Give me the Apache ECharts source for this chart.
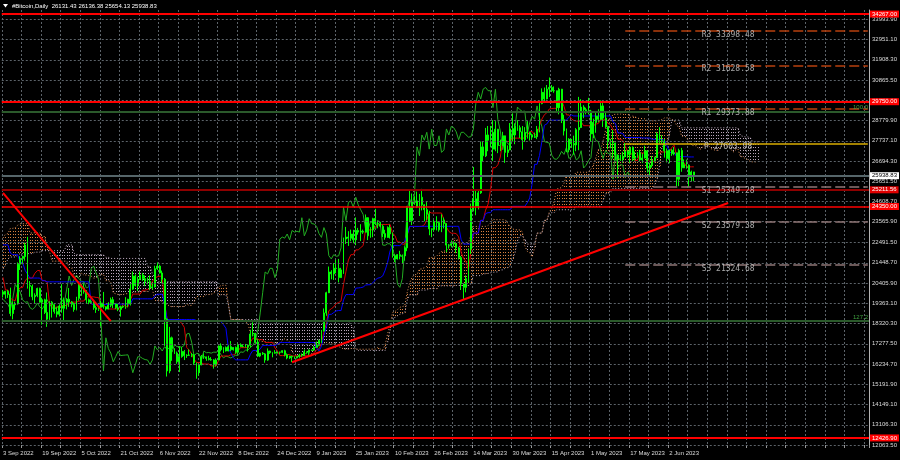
<!DOCTYPE html>
<html><head><meta charset="utf-8">
<script src="https://cdn.jsdelivr.net/npm/echarts@6/dist/echarts.min.js"></script>
<style>html,body{margin:0;padding:0;background:#000;}#c{width:900px;height:460px;}</style>
</head><body><div id="c"></div>
<script>
// ---------- data ----------
const titleText = '#Bitcoin,Daily  26131.43 26136.38 25654.13 25938.83';
const startDate = [2022, 8, 3];           // 3 Sep 2022 (month 0-based)
const totalSlots = 354;                   // bars + empty future area
const lastLabelIndex = 272;               // "2 Jun 2023"
const yTicks = [12063.50,13106.30,14149.10,15191.90,16234.70,17277.50,18320.30,19363.10,20405.90,21448.70,22491.50,23565.90,24608.70,25651.50,26694.30,27737.10,28779.90,29822.70,30865.50,31908.30,32951.10,33993.90];
const yMin = 12063.5, yMax = 34475.5;

// history before the visible window (18 Jun - 2 Sep 2022), lows / highs
const preLow = [17600,18000,19650,20350,19800,19900,20750,20950,20950,20500,20200,19850,18650,
18950,18950,18800,19050,19300,19800,20250,21200,21300,20650,19850,19250,18950,19600,20400,20500,20750,20750,21600,22950,22350,22500,22000,22300,21250,20750,21050,22550,23400,23500,23300,
22900,22700,22700,22450,22600,22900,22850,23150,22900,22700,23900,23600,24300,24150,23800,23700,23200,23150,20800,20800,21000,20900,20900,21150,21350,20150,19850,19550,19600,19550,19900,
19650,19750];
const preHigh = [20700,20750,21000,21700,20850,21200,21500,21600,21900,21500,21200,20400,20150,
20850,19400,19650,20350,20700,20650,21800,22400,21950,21600,20850,20050,20300,20850,21200,21550,21650,22700,23700,24250,23400,23750,22850,22950,22650,21350,23000,24150,24300,24650,24200,
23450,23450,23600,23200,23450,23350,23400,24200,23900,24200,24850,24450,24850,25050,25200,24200,24400,23600,23200,21400,21650,21500,21650,21850,21800,21850,20300,20150,20400,20550,20450,
20200,20400];

// daily candles [open, close, low, high] from 3 Sep 2022
const candles = [
[19952,19832,19660,20050],[19832,19986,19600,20000],[19986,19813,19640,20050],[19813,18838,18700,20170],[18838,19290,18540,19460],[19290,19329,19030,19450],[19329,21381,19300,21470],[21381,21680,21080,21790],[21680,21770,21370,21820],[21770,22370,21560,22490],[22370,20296,20120,22790],[20296,20241,19700,20510],[20241,19701,19520,20330],[19701,19772,19330,19880],[19772,20127,19680,20170],[20127,19419,19400,20170],[19419,19545,18270,19650],[19545,18890,18810,19600],[18890,18547,18150,19920],[18547,19413,18400,19470],[19413,19297,18630,19480],[19297,18937,18830,19310],[18937,18802,18640,19180],[18802,19222,18690,19300],[19222,19110,18880,20350],[19110,19426,18500,19660],[19426,19573,19050,19630],[19573,19431,19180,20150],
[19431,19312,19160,19480],[19312,19044,18930,19390],[19044,19623,19000,19700],[19623,20336,19500,20460],[20336,20160,19750,20360],[20160,19955,19860,20440],[19955,19546,19330,20050],[19546,19417,19320,19610],[19417,19446,19360,19550],[19446,19141,19030,19520],[19141,19051,18870,19250],[19051,19157,18970,19220],[19157,19382,18190,19500],[19382,19185,19090,19950],[19185,19067,18990,19210],[19067,19268,19060,19420],[19268,19550,19160,19660],[19550,19334,19120,19690],[19334,19139,19070,19350],[19139,19053,18960,19330],[19053,19172,18680,19240],[19172,19208,19120,19250],[19208,19567,19080,19680],[19567,19345,19160,19600],[19345,20095,19250,20400],[20095,20770,20060,21000],[20770,20285,20230,20850],[20285,20595,20000,20740],[20595,20818,20560,21000],[20818,20635,20520,20930],[20635,20495,20250,20800],
[20495,20485,20350,20700],[20485,20159,20050,20800],[20159,20209,20060,20390],[20209,21147,20180,21300],[21147,21282,21080,21470],[21282,20926,20900,21350],[20926,20602,20400,21050],[20602,18541,17170,20670],[18541,15880,15590,18590],[15880,17586,15760,18150],[17586,17034,16400,17650],[17034,16800,16750,17050],[16800,16353,16250,16880],[16353,16618,15820,17150],[16618,16884,16560,17110],[16884,16669,16440,16960],[16669,16688,16550,16740],[16688,16697,16650,16990],[16697,16711,16590,16810],[16711,16291,16190,16750],[16291,15787,15480,16310],[15787,16189,15630,16260],[16189,16610,16170,16700],[16610,16604,16500,16780],[16604,16521,16400,16610],[16521,16464,16420,16660],[16464,16444,16410,16590],[16444,16217,16000,16480],[16217,16444,16110,16530],[16444,17168,16430,17200],
[17168,16967,16880,17300],[16967,17088,16800,17100],[17088,16908,16880,17140],[16908,17130,16890,17200],[17130,16974,16900,17420],[16974,17089,16930,17110],[17089,16848,16760,17140],[16848,17233,16740,17290],[17233,17133,17100,17300],[17133,17128,17100,17220],[17128,17104,17080,17270],[17104,17206,16880,17240],[17206,17782,17090,18000],[17782,17815,17660,18390],[17815,17364,17280,17840],[17364,16647,16600,17520],[16647,16795,16590,16800],[16795,16757,16700,16850],[16757,16439,16300,16800],[16439,16906,16400,17040],[16906,16817,16760,16920],[16817,16830,16580,16860],[16830,16796,16770,16950],[16796,16847,16790,16870],[16847,16842,16740,16870],[16842,16919,16800,16940],[16919,16717,16630,16970],[16717,16552,16480,16780],[16552,16642,16500,16660],[16642,16603,16330,16650],[16603,16547,16500,16630],
[16547,16625,16520,16630],[16625,16688,16550,16760],[16688,16680,16610,16780],[16680,16863,16660,16990],[16863,16836,16770,16880],[16836,16951,16700,16990],[16951,16955,16910,16970],[16955,17091,16910,17170],[17091,17196,17090,17390],[17196,17446,17150,17490],[17446,17934,17320,17990],[17934,18869,17910,19100],[18869,19909,18720,19960],[19909,20977,19890,21260],[20977,20880,20600,21070],[20880,21169,20570,21440],[21169,21161,20910,21610],[21161,20688,20440,21650],[20688,21086,20670,21190],[21086,22676,20880,22750],[22676,22777,22420,23300],[22777,22720,22320,23080],[22720,22934,22560,23160],[22934,22636,22460,23150],[22636,23117,22360,23790],[23117,23032,22900,23250],[23032,23078,22570,23440],[23078,23031,22940,23160],[23031,23774,23020,23940],[23774,22840,22620,23800],[22840,23139,22740,23290],
[23139,23723,22770,23770],[23723,23471,23400,24230],[23471,23449,23230,23580],[23449,23331,23280,23560],[23331,22955,22780,23420],[22955,22760,22640,23150],[22760,23264,22750,23330],[23264,22939,22700,23420],[22939,21819,21720,23010],[21819,21651,21480,21900],[21651,21870,21620,21900],[21870,21788,21630,22070],[21788,21808,21400,21880],[21808,22220,21560,22300],[22220,24307,22050,24380],[24307,23623,23550,25250],[23623,24565,23400,25020],[24565,24641,24440,24880],[24641,24327,24270,25120],[24327,24829,23860,25000],[24829,24436,24150,25260],[24436,24188,23590,24470],[24188,23947,23650,24580],[23947,23198,22870,24130],[23198,23175,22770,23220],[23175,23561,23080,23660],[23561,23522,23120,23850],[23522,23147,23050,23600],
[23147,23646,23030,23950],[23646,23475,23220,23780],[23475,22362,22000,23480],[22362,22353,22180,22410],[22353,22435,22250,22600],[22435,22429,22290,22560],[22429,22219,21960,22530],[22219,21718,21620,22280],[21718,20363,20050,21800],[20363,20187,19570,20370],[20187,20633,19930,20800],[20633,22163,20440,22190],[22163,24197,21900,24500],[24197,24746,24100,26390],[24746,24375,23900,25200],[24375,25052,24200,25180],[25052,27423,25000,27700],[27423,26965,26650,27700],[26965,28038,26900,28400],[28038,27767,27200,28500],[27767,28175,27400,28500],[28175,27307,26700,28800],[27307,28333,27200,28750],[28333,27493,27100,28350],[27493,27494,27200,27800],[27494,27994,27460,28200],[27994,27139,26600,28000],[27139,27268,26900,27500],[27268,28348,27250,28650],[28348,28033,27700,29150],[28033,28478,27560,28640],
[28478,28411,28250,28800],[28411,28199,27880,28530],[28199,27790,27280,28500],[27790,28168,27680,28440],[28168,28177,27850,28750],[28177,28044,27750,28200],[28044,27925,27800,28100],[27925,27947,27880,28160],[27947,28333,27820,28500],[28333,29653,28170,29770],[29653,30235,29620,30440],[30235,29892,29680,30480],[29892,30400,29870,30610],[30400,30485,29990,31000],[30485,30318,30250,30610],[30318,30316,30210,30540],[30316,29445,29270,30320],[29445,30397,29100,30470],[30397,28822,28650,30410],[28822,28245,28010,29080],[28245,27276,27150,28370],[27276,27817,27140,27870],[27817,27591,27370,27820],[27591,27525,27030,28000],[27525,28307,27200,28390],[28307,28422,27250,30000],[28422,29473,28390,29880],[29473,29340,28900,29570],[29340,29248,29100,29440],[29248,29268,29100,29950],
[29268,28091,27680,29330],[28091,28680,27880,28880],[28680,29006,28150,29260],[29006,28847,28690,29360],[28847,29534,28800,29820],[29534,28904,28450,29700],[28904,28454,28400,29170],[28454,27695,27300,28480],[27695,27654,27350,27830],[27654,27621,26820,28310],[27621,27000,26720,27640],[27000,26804,25810,27040],[26804,26784,26700,27020],[26784,26931,26600,27170],[26931,27192,26880,27630],[27192,27036,26860,27270],[27036,27398,26600,27450],[27398,26832,26690,27450],[26832,26890,26720,27180],[26890,27129,26860,27150],[27129,26753,26700,27270],[26753,26851,26590,27060],[26851,27225,26830,27480],[27225,26334,26100,27230],[26334,26476,25880,26600],[26476,26719,26360,26950],[26719,26868,26620,26920],[26868,28085,26860,28180],[28085,27745,27580,28440],[27745,27702,27570,28020],[27702,27219,26870,27830],
[27219,26819,26620,27340],[26819,27249,26580,27300],[27249,27075,26960,27310],[27075,27119,26990,27420],[27119,25760,25400,27130],[25760,27238,25400,27330],[27238,26346,26140,27370],[26346,26508,26330,26780],[26508,26480,26300,26770],[26480,25851,25370,26520],[25851,26131,25650,26200],[26131.43,25938.83,25654.13,26136.38]
];

// horizontal levels
const redLevels = [34267.00, 29750.00, 24350.00, 12426.90];
const darkRedLevels = [25211.56];
const lastPrice = 25938.83;
const fibNames = ['100.0', '127.2'];
const fibValues = [29245, 18452];
const pivotNames = ['R3', 'R2', 'R1', 'P', 'S1', 'S2', 'S3'];
const pivotValues = [33398.48, 31628.58, 29373.88, 27603.98, 25349.28, 23579.38, 21324.68];
const pivotStart = '2023-05-15';
const pivotTextDate = '2023-06-26';
const trendDown = [['2022-09-03', 25050], ['2022-10-17', 18450]];
const trendUp = [['2022-12-30', 16330], ['2023-06-26', 24530]];

// ---------- build ----------
const MON = ['Jan','Feb','Mar','Apr','May','Jun','Jul','Aug','Sep','Oct','Nov','Dec'];
const dates = [];
const d0 = Date.UTC(startDate[0], startDate[1], startDate[2]);
for (let i = 0; i < totalSlots; i++) dates.push(new Date(d0 + i * 86400000).toISOString().slice(0, 10));
const lastDate = dates[totalSlots - 1];
function fmtDate(s) { const p = s.split('-'); return (+p[2]) + ' ' + MON[+p[1] - 1] + ' ' + p[0]; }

// Ichimoku (9, 26, 52) from the price data
const P = preLow.length, N = candles.length;
const allLow = preLow.concat(candles.map(c => c[2]));
const allHigh = preHigh.concat(candles.map(c => c[3]));
function mid(k, n) { let hi = -Infinity, lo = Infinity; for (let j = Math.max(0, k - n + 1); j <= k; j++) { hi = Math.max(hi, allHigh[j]); lo = Math.min(lo, allLow[j]); } return (hi + lo) / 2; }
const tenkan = [], kijun = [], chikou = [], spanA = [], spanB = [], cloud = [];
for (let i = 0; i < totalSlots; i++) {
  tenkan.push(i < N ? mid(P + i, 9) : null);
  kijun.push(i < N ? mid(P + i, 26) : null);
  chikou.push(i + 26 < N ? candles[i + 26][1] : null);
  const k = P + i - 26;
  if (k >= 0 && k < P + N) {
    const a = (mid(k, 9) + mid(k, 26)) / 2, b = mid(k, 52);
    spanA.push(a); spanB.push(b); cloud.push([i, a, b]);
  } else { spanA.push(null); spanB.push(null); }
}

const FONT = 'Liberation Sans';
const gridLines = yTicks.map(v => ({
  yAxis: v,
  lineStyle: { color: '#5c6369', type: [2, 2], width: 1 },
  label: { show: true, position: 'end', distance: 3, formatter: v.toFixed(2), color: '#dcdcdc', fontSize: 6, fontFamily: FONT }
}));

function boxLabel(v, bg, fg) {
  return { show: true, position: 'end', distance: 1, formatter: v.toFixed(2), backgroundColor: bg, color: fg, fontSize: 6, fontFamily: FONT, padding: [1, 2, 0, 2] };
}
const levelItems = [];
redLevels.forEach((v, k) => levelItems.push({ yAxis: v, lineStyle: { color: '#ff0000', width: k === 2 ? 1.5 : 2, type: 'solid' }, label: boxLabel(v, '#ff0000', '#ffffff') }));
darkRedLevels.forEach(v => levelItems.push({ yAxis: v, lineStyle: { color: '#8e0000', width: 2, type: 'solid' }, label: boxLabel(v, '#e00000', '#ffffff') }));
levelItems.push({ yAxis: lastPrice, lineStyle: { color: '#56666a', width: 2, type: 'solid' }, label: boxLabel(lastPrice, '#ffffff', '#000000') });
fibValues.forEach((v, k) => levelItems.push({ yAxis: v, lineStyle: { color: '#2b5a2b', width: 2, type: 'solid' },
  label: { show: true, position: 'insideEndTop', distance: 1, formatter: fibNames[k], color: '#3fa03f', fontSize: 6, fontFamily: FONT } }));
pivotValues.forEach((v, k) => {
  const name = pivotNames[k];
  const col = name === 'P' ? '#d8ac00' : (name[0] === 'R' ? '#b8400e' : '#8f7676');
  levelItems.push([{ coord: [pivotStart, v], lineStyle: { color: col, width: 1.5, type: name === 'P' ? 'solid' : [10, 4] } }, { coord: [lastDate, v] }]);
});
[trendDown, trendUp].forEach(t => levelItems.push([{ coord: t[0], lineStyle: { color: '#ff0000', width: 2, type: 'solid' } }, { coord: t[1] }]));

const chart = echarts.init(document.getElementById('c'), null, { renderer: 'canvas' });
chart.setOption({
  animation: false,
  backgroundColor: '#000000',
  grid: { left: 0, right: 31, top: 10, bottom: 15 },
  xAxis: {
    type: 'category', data: dates, boundaryGap: true,
    axisLine: { show: false },
    axisTick: { show: true, length: 3, interval: (i) => i % 8 === 0, lineStyle: { color: '#9a9a9a' } },
    splitLine: { show: true, interval: (i) => i % 8 === 0, lineStyle: { color: '#5c6369', type: [2, 2], width: 1 } },
    axisLabel: { show: true, interval: (i) => i % 16 === 0 && i <= lastLabelIndex, formatter: (v) => fmtDate(v), align: 'left', margin: 5,
      color: '#dcdcdc', fontSize: 6, fontFamily: FONT }
  },
  yAxis: {
    type: 'value', position: 'right', min: yMin, max: yMax,
    splitLine: { show: false }, axisLabel: { show: false }, axisTick: { show: false },
    axisLine: { show: true, lineStyle: { color: '#b4b4b4', width: 1 } }
  },
  graphic: [
    { type: 'polygon', shape: { points: [[3, 4], [8, 4], [5.5, 7.5]] }, style: { fill: '#ffffff' } },
    { type: 'text', left: 12, top: 3, style: { text: titleText, fill: '#ffffff', font: '6px "Liberation Sans"' } }
  ],
  series: [
    { type: 'line', name: 'grid', data: [], z: 0, silent: true,
      markLine: { symbol: ['none', 'none'], silent: true, animation: false, label: { show: false }, data: gridLines } },
    { type: 'custom', name: 'cloud', data: cloud, z: 1, silent: true, encode: { x: 0, y: [1, 2] },
      renderItem: function (params, api) {
        const i = api.value(0), a = api.value(1), b = api.value(2);
        const p1 = api.coord([i, a]), p2 = api.coord([i, b]);
        const x = Math.round(p1[0]) + 0.5;
        const ya = Math.min(p1[1], p2[1]), yb = Math.max(p1[1], p2[1]);
        const ys = Math.ceil(ya / 3) * 3;
        if (yb - ys < 1) return null;
        return { type: 'line', silent: true, shape: { x1: x, y1: ys, x2: x, y2: yb },
          style: { stroke: a >= b ? '#d9803e' : '#b9a6b9', lineWidth: 1, lineDash: [1, 2], opacity: 1 } };
      } },
    { type: 'line', name: 'SpanA', data: spanA, symbol: 'none', z: 1, silent: true, lineStyle: { color: '#e8965a', width: 1, type: [1, 2] } },
    { type: 'line', name: 'SpanB', data: spanB, symbol: 'none', z: 1, silent: true, lineStyle: { color: '#c8b4c8', width: 1, type: [1, 2] } },
    { type: 'line', name: 'Chikou', data: chikou, symbol: 'none', z: 2, silent: true, lineStyle: { color: '#22ad22', width: 1 } },
    { type: 'line', name: 'Tenkan', data: tenkan, symbol: 'none', z: 2, silent: true, lineStyle: { color: '#d80000', width: 1 } },
    { type: 'line', name: 'Kijun', data: kijun, symbol: 'none', z: 2, silent: true, lineStyle: { color: '#0000ff', width: 1 } },
    { type: 'candlestick', name: 'BTC', data: candles, z: 3, silent: true, barWidth: 1.4,
      itemStyle: { color: '#a4ffa4', color0: '#00d400', borderColor: '#00ff00', borderColor0: '#00ff00', borderWidth: 1 } },
    { type: 'line', name: 'levels', data: [], z: 5, silent: true,
      markLine: { symbol: ['none', 'none'], silent: true, animation: false, label: { show: false }, data: levelItems } },
    { type: 'scatter', name: 'pivotText', z: 6, silent: true, symbolSize: 1, itemStyle: { color: 'rgba(0,0,0,0)' },
      data: pivotValues.map((v, k) => ({ value: [pivotTextDate, v], name: pivotNames[k] + ' ' + v.toFixed(2) })),
      label: { show: true, position: 'inside', offset: [0, 4], formatter: (p) => p.name, color: '#d0d0d0', fontSize: 8, fontFamily: 'DejaVu Sans Mono' } }
  ]
});
</script></body></html>
